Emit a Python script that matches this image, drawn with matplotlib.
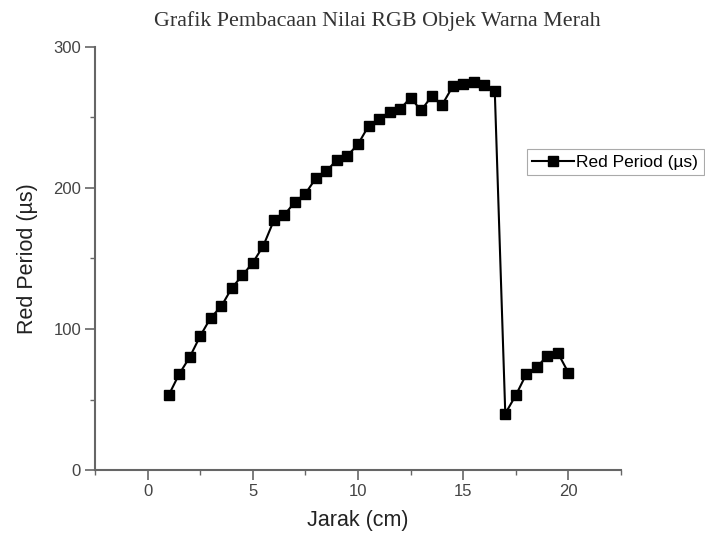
import matplotlib.pyplot as plt
from matplotlib.ticker import MultipleLocator

# ==========================================================
# Data
# ==========================================================

jarak = [1, 1.5, 2, 2.5, 3, 3.5, 4, 4.5, 5, 5.5,
         6, 6.5, 7, 7.5, 8, 8.5, 9, 9.5, 10, 10.5,
         11, 11.5, 12, 12.5, 13, 13.5, 14, 14.5, 15, 15.5,
         16, 16.5, 17, 17.5, 18, 18.5, 19, 19.5, 20]

red_period = [53, 68, 80, 95, 108, 116, 129, 138, 147, 159,
              177, 181, 190, 196, 207, 212, 220, 223, 231, 244,
              249, 254, 256, 264, 255, 265, 259, 272, 274, 275,
              273, 269, 40, 53, 68, 73, 81, 83, 69]

x_ticks = [0, 5, 10, 15, 20]
y_ticks = [0, 100, 200, 300]

# ==========================================================
# Plot
# ==========================================================

plt.rcParams["font.family"] = ["Liberation Sans", "DejaVu Sans"]

fig = plt.figure(figsize=(7.05, 5.35), dpi=100)
ax = fig.add_axes([95 / 705, 65 / 535, 526 / 705, 423 / 535])

ax.plot(
    jarak,
    red_period,
    color="black",
    linewidth=1.5,
    marker="s",
    markersize=7,
    label="Red Period (µs)"
)

ax.set_xlim(-2.5, 22.5)
ax.set_ylim(0, 300)
ax.set_xticks(x_ticks)
ax.set_yticks(y_ticks)
ax.xaxis.set_minor_locator(MultipleLocator(2.5))
ax.yaxis.set_minor_locator(MultipleLocator(50))

axis_color = "#666666"
for side in ["top", "right"]:
    ax.spines[side].set_visible(False)
for side in ["left", "bottom"]:
    ax.spines[side].set_color(axis_color)
    ax.spines[side].set_linewidth(1.5)

ax.tick_params(which="major", direction="out", length=7, width=1.2,
               color=axis_color, labelsize=12, labelcolor="#444444", pad=3)
ax.tick_params(which="minor", direction="out", length=3.5, width=1.0,
               color=axis_color)

ax.set_xlabel("Jarak (cm)", fontsize=15.5, color="#222222", labelpad=8)
ax.set_ylabel("Red Period (µs)", fontsize=15.5, color="#222222", labelpad=11)

fig.text(
    377 / 705, 1 - 21 / 535,
    "Grafik Pembacaan Nilai RGB Objek Warna Merah",
    family=["Liberation Serif", "DejaVu Serif"],
    fontsize=15.8,
    color="#333333",
    ha="center",
    va="center"
)

leg = fig.legend(
    loc="center left",
    bbox_to_anchor=(527 / 705, 1 - 162 / 535),
    fontsize=12.5,
    fancybox=False,
    framealpha=1,
    edgecolor="#aaaaaa",
    handlelength=2.4,
    borderpad=0.3,
    borderaxespad=0,
    handletextpad=0.15
)
leg.get_frame().set_linewidth(0.8)

fig.savefig("out.png", dpi=100)
plt.close(fig)
